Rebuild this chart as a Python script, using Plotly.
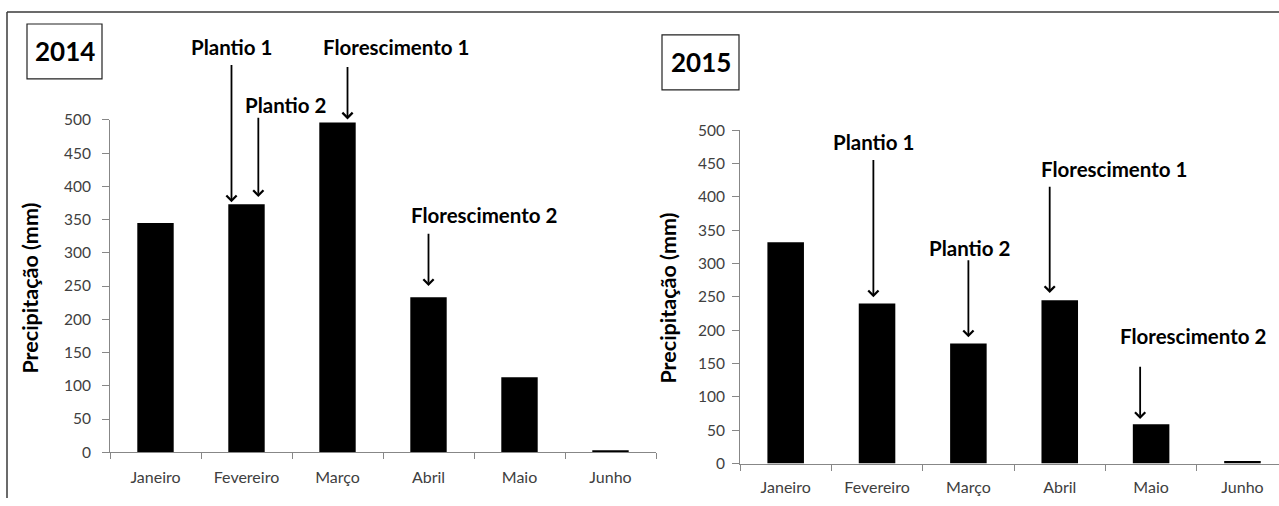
import plotly.graph_objects as go

# ---------------- data ----------------
months = ["Janeiro", "Fevereiro", "Março", "Abril", "Maio", "Junho"]
prec_2014 = [345, 373, 496, 233, 113, 3]
prec_2015 = [332, 240, 180, 245, 59, 4]
y_ticks = [0, 50, 100, 150, 200, 250, 300, 350, 400, 450, 500]

events_2014_labels = ["Plantio 1", "Plantio 2", "Florescimento 1", "Florescimento 2"]
events_2014_months = ["Fevereiro", "Fevereiro", "Março", "Abril"]
events_2015_labels = ["Plantio 1", "Plantio 2", "Florescimento 1", "Florescimento 2"]
events_2015_months = ["Fevereiro", "Março", "Abril", "Maio"]

# ---------------- layout helpers (pixels) ----------------
W, H = 1279, 506
FONT = "Lato"
AXIS_GREY = "#878787"
TICK_TXT = "#404040"
# vertical compensation observed in the capture (offset, scale)
V_OFF, V_SCALE = 8.0, 0.966


def px(x):
    return x / W


def py(y):
    return 1 - ((y - V_OFF) / V_SCALE) / H


def vpx(d):
    return d / V_SCALE


# arrow styling: (dx in category units, tail length px, standoff px)
arrows_2014 = [(-0.165, 136, 2), (0.13, 85, 7), (0.11, 55, 3), (0.0, 63, 11)]
arrows_2015 = [(-0.04, 140, 6), (0.0, 82, 6), (-0.11, 111, 7), (-0.12, 57, 5)]
# label centres (pixels)
labels_2014_pos = [(232, 45), (285, 103), (396, 45), (484, 213)]
labels_2015_pos = [(873, 140), (969, 246), (1114, 167), (1193, 335)]

fig = go.Figure()
fig.add_trace(go.Bar(x=months, y=prec_2014, xaxis="x", yaxis="y", width=0.4,
                     marker=dict(color="black", line=dict(width=0)), showlegend=False))
fig.add_trace(go.Bar(x=months, y=prec_2015, xaxis="x2", yaxis="y2", width=0.4,
                     marker=dict(color="black", line=dict(width=0)), showlegend=False))

xaxis_common = dict(type="category", categoryorder="array", categoryarray=months,
                    showline=True, linecolor=AXIS_GREY, linewidth=1,
                    ticks="outside", tickson="boundaries", ticklen=6,
                    tickcolor=AXIS_GREY, showgrid=False, zeroline=False,
                    tickfont=dict(family=FONT, size=16, color=TICK_TXT),
                    fixedrange=True)
yaxis_common = dict(range=[0, 500], tickvals=y_ticks, showline=True,
                    linecolor=AXIS_GREY, linewidth=1, ticks="outside", ticklen=7,
                    tickcolor=AXIS_GREY, showgrid=False, zeroline=False,
                    tickfont=dict(family=FONT, size=15.5, color=TICK_TXT),
                    fixedrange=True)

fig.update_layout(
    width=W, height=H,
    margin=dict(l=0, r=0, t=0, b=0),
    paper_bgcolor="white", plot_bgcolor="white",
    bargap=0.6,
    xaxis=dict(domain=[px(110), px(656)], range=[-0.5, 5.5], anchor="y",
               ticklabelstandoff=11, **xaxis_common),
    yaxis=dict(domain=[py(451), py(118)], anchor="x", ticklabelstandoff=8, **yaxis_common),
    xaxis2=dict(domain=[px(740), 1.0], range=[-0.5, 5.4], anchor="y2",
                ticklabelstandoff=9, **xaxis_common),
    yaxis2=dict(domain=[py(462.3), py(128.3)], anchor="x2", ticklabelstandoff=4, **yaxis_common),
)

annotations = []
# event arrows and labels
for labels, ev_months, values, arrows, positions, xr, yr in [
    (events_2014_labels, events_2014_months, prec_2014, arrows_2014, labels_2014_pos, "x", "y"),
    (events_2015_labels, events_2015_months, prec_2015, arrows_2015, labels_2015_pos, "x2", "y2"),
]:
    for lab, m, (dx, length, stand), (tx, ty) in zip(labels, ev_months, arrows, positions):
        i = months.index(m)
        annotations.append(dict(
            x=i + dx, y=values[i], xref=xr, yref=yr, text="", showarrow=True,
            ax=0, ay=-vpx(length), arrowhead=4, arrowsize=1.1, arrowwidth=1.8,
            arrowcolor="black", standoff=vpx(stand)))
        annotations.append(dict(
            x=px(tx), y=py(ty), xref="paper", yref="paper", text=lab, showarrow=False,
            xanchor="center", yanchor="middle",
            font=dict(family=FONT, size=20.5, color="black", weight="bold")))

# y axis titles
for tx, ty in [(30, 287), (668, 297)]:
    annotations.append(dict(
        x=px(tx), y=py(ty), xref="paper", yref="paper", text="Precipitação (mm)",
        showarrow=False, textangle=-90, xanchor="center", yanchor="middle",
        font=dict(family=FONT, size=21.5, color="black", weight="bold")))

# year boxes
shapes = []
for year, (x0, y0, x1, y1) in [("2014", (27, 22, 102, 77)), ("2015", (662, 33, 739, 88))]:
    shapes.append(dict(type="rect", xref="paper", yref="paper",
                       x0=px(x0), x1=px(x1), y0=py(y1), y1=py(y0),
                       line=dict(color="#222222", width=1.2), fillcolor="white", layer="below"))
    annotations.append(dict(
        x=px((x0 + x1) / 2), y=py((y0 + y1) / 2), xref="paper", yref="paper", text=year,
        showarrow=False, xanchor="center", yanchor="middle",
        font=dict(family=FONT, size=26, color="black", weight="bold")))

# outer frame (top and left edges visible)
shapes.append(dict(type="line", xref="paper", yref="paper", x0=px(7), x1=1.0,
                   y0=py(10), y1=py(10), line=dict(color="#3a3a3a", width=1.5)))
shapes.append(dict(type="line", xref="paper", yref="paper", x0=px(7), x1=px(7),
                   y0=py(10), y1=0.0, line=dict(color="#3a3a3a", width=1.5)))

fig.update_layout(annotations=annotations, shapes=shapes)

css_js = (
    "var s=document.createElement('style');"
    "s.textContent='html,body{margin:0!important;padding:0!important;overflow:hidden!important;"
    "width:1279px;height:506px;}';"
    "document.head.appendChild(s);"
)

fig.write_html(
    "out.html",
    config={"displayModeBar": False},
    post_script=css_js,
)
